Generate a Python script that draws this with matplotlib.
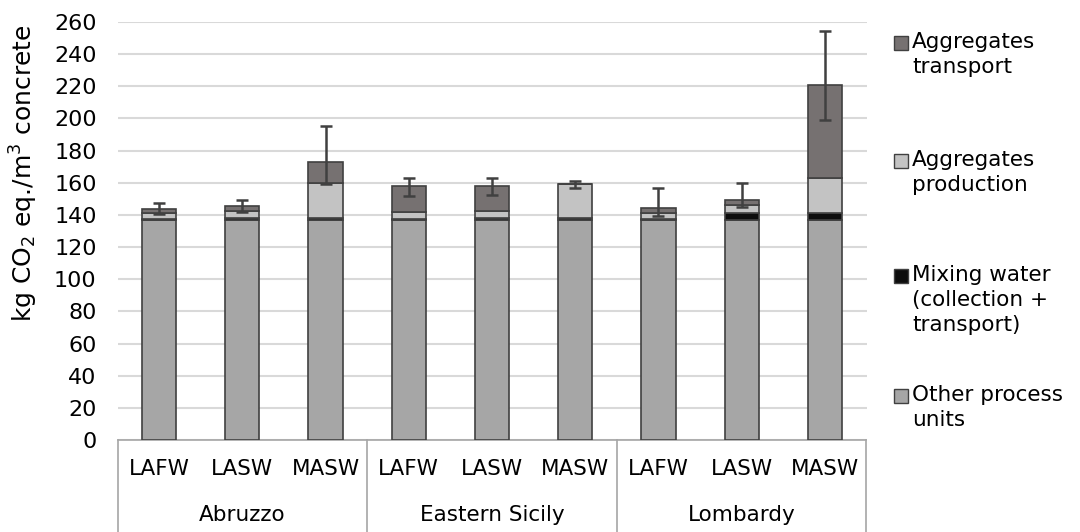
import numpy as np
import matplotlib
matplotlib.use("Agg")
import matplotlib.pyplot as plt
from matplotlib.patches import Rectangle

# Values (kg CO2 eq./m3 concrete)
regions = ["Abruzzo", "Eastern Sicily", "Lombardy"]
mixes = ["LAFW", "LASW", "MASW"]
other_units = [137, 137, 137, 137, 137, 137, 137, 137, 137]
mixing_water = [0.3, 1.2, 1.2, 0.3, 1.0, 1.0, 0.3, 4.5, 4.5]
agg_production = [4.1, 4.0, 21.4, 4.3, 4.4, 21.5, 4.1, 4.6, 21.7]
agg_transport = [2.4, 3.3, 13.4, 16.1, 15.3, 0.0, 3.1, 2.9, 57.6]
err_minus = [3.0, 3.7, 14.0, 5.7, 5.1, 3.0, 5.0, 4.0, 21.6]
err_plus = [3.8, 3.5, 22.3, 5.0, 5.0, 1.8, 12.0, 10.6, 33.8]

series = [
    ("Other process\nunits", other_units, "#a6a6a6"),
    ("Mixing water\n(collection +\ntransport)", mixing_water, "#0d0d0d"),
    ("Aggregates\nproduction", agg_production, "#c3c3c3"),
    ("Aggregates\ntransport", agg_transport, "#767171"),
]

fs = 15.5
edge = "#404040"
grid_c = "#d9d9d9"

fig = plt.figure(figsize=(10.8, 5.32), dpi=100)
ax = fig.add_axes([117.5 / 1080, 92 / 532, 749 / 1080, 418 / 532])

x = np.arange(len(other_units))
bottom = np.zeros(len(x))
for name, vals, col in series:
    vals = np.array(vals)
    ax.bar(x, vals, width=0.41, bottom=bottom, color=col,
           edgecolor=edge, linewidth=1.2, zorder=3)
    bottom += vals

ax.errorbar(x, bottom, yerr=[err_minus, err_plus], fmt="none",
            ecolor=edge, elinewidth=1.8, capsize=4.5, capthick=1.8, zorder=4)

ax.set_xlim(-0.5, len(x) - 0.5)
ax.set_ylim(0, 260)
ax.set_yticks(np.arange(0, 261, 20))
ax.yaxis.grid(True, color=grid_c, linewidth=1.5, zorder=0)
ax.set_axisbelow(True)
for s in ["top", "right", "left"]:
    ax.spines[s].set_visible(False)
ax.spines["bottom"].set_color("#a6a6a6")
ax.spines["bottom"].set_linewidth(1.2)
ax.tick_params(axis="y", length=0, pad=15, labelsize=16)
ax.set_xticks(x)
ax.set_xticklabels(mixes * len(regions))
ax.tick_params(axis="x", length=0, pad=14, labelsize=fs)
ax.set_ylabel("kg CO$_2$ eq./m$^3$ concrete", fontsize=18)
ax.yaxis.set_label_coords(-77 / 749, 0.638)

# category box below the axis
trans = ax.get_xaxis_transform()
for b in [-0.5, 2.5, 5.5, 8.5]:
    ax.plot([b, b], [0, -92 / 418], color="#a6a6a6", lw=1.2,
            transform=trans, clip_on=False)
for i, r in enumerate(regions):
    ax.text(3 * i + 1, -75 / 418, r, transform=trans, ha="center",
            va="center", fontsize=fs)

# legend on the right
tops = [37, 155, 270, 390]
for (name, vals, col), top in zip(series[::-1], tops):
    fig.add_artist(Rectangle((894 / 1080, 1 - (top + 13) / 532), 14 / 1080,
                             14 / 532, transform=fig.transFigure,
                             facecolor=col, edgecolor=edge, linewidth=1))
    fig.text(912 / 1080, 1 - (top - 5) / 532, name, fontsize=fs,
             va="top", ha="left", linespacing=1.3)

fig.savefig("out.png", dpi=100)
